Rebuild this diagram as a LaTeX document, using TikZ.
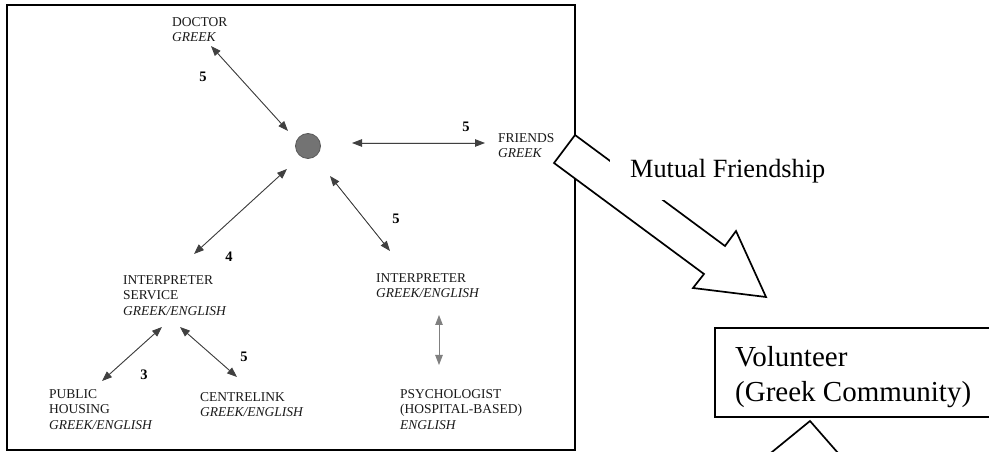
\documentclass[tikz,border=0pt]{standalone}
\usepackage{fontspec}
\setmainfont{Liberation Serif}
\usetikzlibrary{arrows.meta}
\begin{document}
\begin{tikzpicture}[x=1bp,y=-1bp,
  lbl/.style={anchor=north west, inner sep=0pt, align=left, text=black!90,
    font=\fontsize{13.5bp}{15.7bp}\selectfont},
  num/.style={inner sep=0pt, font=\fontsize{14.5bp}{16bp}\selectfont\bfseries},
  biarrow/.style={{Triangle[length=10bp,width=7.5bp]}-{Triangle[length=10bp,width=7.5bp]},
    line width=0.9bp, draw=black!75, fill=black},
  blockline/.style={line width=1.7bp, line join=miter, fill=white},
  bigtext/.style={font=\fontsize{26.3bp}{32bp}\selectfont}
]
\clip (0,0) rectangle (989,452);
\fill[white] (0,0) rectangle (989,452);

% frame of the contact map
\draw[line width=1.5bp] (7,5) rectangle (575,450);

% the client at the centre
\node[circle, fill=black!55, draw=black!65, line width=0.8bp,
      minimum size=25bp, inner sep=0pt] (hub) at (308,146) {};

% contacts
\node[lbl] (doctor)  at (172,17)  {DOCTOR\\\textit{GREEK}};
\node[lbl] (friends) at (498,133) {FRIENDS\\\textit{GREEK}};
\node[lbl] (service) at (123,275) {INTERPRETER\\SERVICE\\\textit{GREEK/ENGLISH}};
\node[lbl] (interp)  at (376,273) {INTERPRETER\\\textit{GREEK/ENGLISH}};
\node[lbl] (housing) at (49,389)  {PUBLIC\\HOUSING\\\textit{GREEK/ENGLISH}};
\node[lbl] (centre)  at (200,392) {CENTRELINK\\\textit{GREEK/ENGLISH}};
\node[lbl] (psych)   at (400,389) {PSYCHOLOGIST\\(HOSPITAL-BASED)\\\textit{ENGLISH}};

% arrow ends
\coordinate (docA) at (211,46);  \coordinate (docB) at (288,131);
\coordinate (frA)  at (352,143); \coordinate (frB)  at (485,143);
\coordinate (svA)  at (287,169); \coordinate (svB)  at (194,254);
\coordinate (inA)  at (330,176); \coordinate (inB)  at (390,251);
\coordinate (psA)  at (439,315); \coordinate (psB)  at (439,365);
\coordinate (hoA)  at (162,327); \coordinate (hoB)  at (102,381);
\coordinate (ceA)  at (180,327); \coordinate (ceB)  at (237,377);

\draw[biarrow] (docA) -- (docB);
\draw[biarrow] (frA) -- (frB);
\draw[biarrow] (svA) -- (svB);
\draw[biarrow] (inA) -- (inB);
\draw[biarrow, draw=black!50] (psA) -- (psB);
\draw[biarrow] (hoA) -- (hoB);
\draw[biarrow] (ceA) -- (ceB);

% contact ratings
\node[num] (n-doc) at (203,77)  {5};
\node[num] (n-fr)  at (466,127) {5};
\node[num] (n-svc) at (229,257) {4};
\node[num] (n-int) at (396,219) {5};
\node[num] (n-hou) at (144,375) {3};
\node[num] (n-cen) at (244,357) {5};

% block arrow from friends to volunteer
\draw[blockline] (575,135) -- (554,163) -- (704,274) -- (693,288)
  -- (766,297) -- (736,231) -- (725,246) -- cycle;
\node[bigtext, fill=white, anchor=north west, inner xsep=20bp, inner ysep=9bp,
      text depth=13.4bp] (mutual) at (610,150) {Mutual Friendship};

% volunteer box
\draw[line width=1.7bp] (715,328) rectangle (1000,417);
\node[anchor=north west, inner sep=0pt, align=left,
      font=\fontsize{29bp}{35bp}\selectfont] (vol) at (735,346)
      {Volunteer\\(Greek Community)};

% top of the next block arrow
\draw[blockline] (761,461) -- (810,421) -- (845,461);
\end{tikzpicture}
\end{document}
